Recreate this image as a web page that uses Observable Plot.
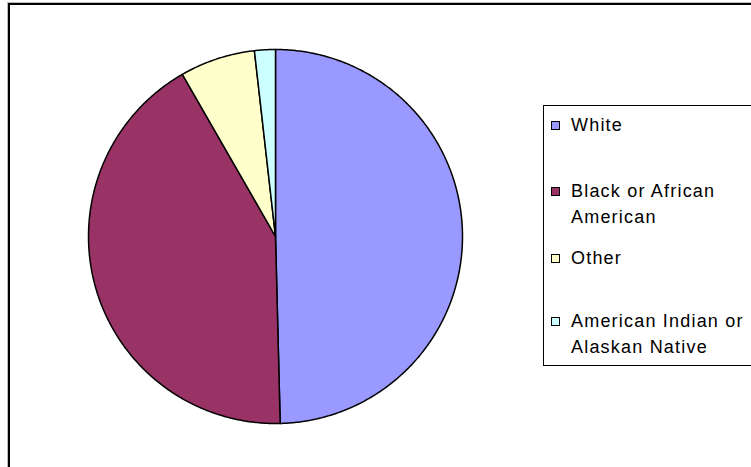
<!DOCTYPE html>
<html>
<head>
<meta charset="utf-8">
<script src="https://cdn.jsdelivr.net/npm/d3@7"></script>
<script src="https://cdn.jsdelivr.net/npm/@observablehq/plot@0.6"></script>
<style>
  html, body { margin: 0; padding: 0; background: #fff; }
  #wrap { position: relative; width: 751px; height: 467px; overflow: hidden; font-family: "Liberation Sans", Arial, sans-serif; }
  #chart { position: absolute; left: 0; top: 0; }
  #frame { position: absolute; left: 8px; top: 3px; width: 800px; height: 520px; border: 2px solid #000; box-shadow: -1px -1px 0 #bbb; }
  #legend { position: absolute; left: 543px; top: 105px; width: 260px; height: 259px; border: 1px solid #000; background: #fff; }
  .item { position: absolute; left: 7px; font-size: 18px; line-height: 26px; letter-spacing: 1.2px; color: #000; white-space: pre; }
  .sw { position: absolute; left: 0; width: 7px; height: 7px; border: 1px solid #000; }
  .txt { position: absolute; left: 20px; top: 0; }
</style>
</head>
<body>
<div id="wrap">
  <div id="chart"></div>
  <div id="frame"></div>
  <div id="legend"></div>
</div>
<script>
const categories = ["White", "Black or African American", "Other", "American Indian or Alaskan Native"];
const values = [49.6, 42.1, 6.5, 1.8];
const colors = ["#9999FF", "#993366", "#FFFFCC", "#CCFFFF"];
const legendLabels = ["White", "Black or African\nAmerican", "Other", "American Indian or\nAlaskan Native"];

// slice outlines from the data (clockwise from 12 o'clock)
const total = d3.sum(values);
const pts = [];
let acc = 0;
categories.forEach((c, i) => {
  const a0 = acc / total * 2 * Math.PI;
  acc += values[i];
  const a1 = acc / total * 2 * Math.PI;
  pts.push({cat: c, x: 0, y: 0});
  const n = Math.max(2, Math.ceil((a1 - a0) / (Math.PI / 360)));
  for (let k = 0; k <= n; k++) {
    const a = a0 + (a1 - a0) * k / n;
    pts.push({cat: c, x: Math.sin(a), y: Math.cos(a)});
  }
});

const plot = Plot.plot({
  width: 751,
  height: 467,
  marginLeft: 88,
  marginRight: 289,
  marginTop: 49,
  marginBottom: 44,
  x: {domain: [-1, 1], axis: null},
  y: {domain: [-1, 1], axis: null},
  color: {type: "ordinal", domain: categories, range: colors, legend: false},
  marks: [
    Plot.line(pts, {x: "x", y: "y", z: "cat", fill: "cat", stroke: "#000", strokeWidth: 1.5, strokeLinejoin: "round", curve: "linear-closed"})
  ]
});
document.getElementById("chart").appendChild(plot);

// legend
const tops = [6, 72, 139, 202];
const lg = document.getElementById("legend");
categories.forEach((c, i) => {
  const it = document.createElement("div");
  it.className = "item";
  it.style.top = tops[i] + "px";
  const sw = document.createElement("span");
  sw.className = "sw";
  sw.style.top = "9px";
  sw.style.background = colors[i];
  const tx = document.createElement("span");
  tx.className = "txt";
  tx.textContent = legendLabels[i];
  it.appendChild(sw);
  it.appendChild(tx);
  lg.appendChild(it);
});
</script>
</body>
</html>
